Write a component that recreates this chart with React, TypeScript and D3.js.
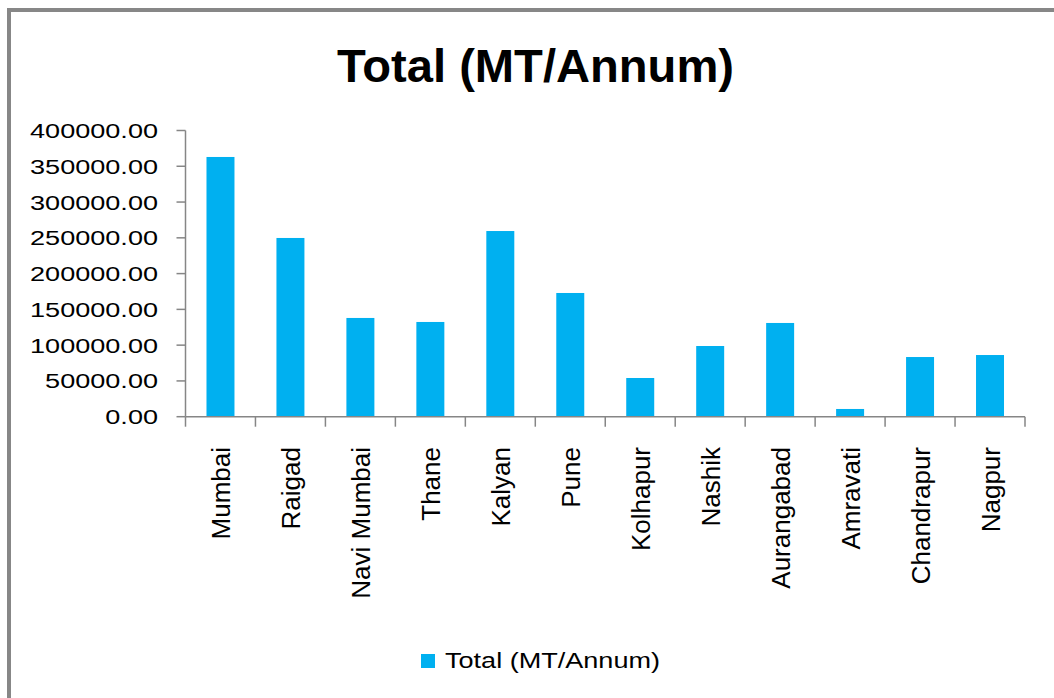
import React from "react";
import * as d3 from "d3";

const categories = ["Mumbai", "Raigad", "Navi Mumbai", "Thane", "Kalyan", "Pune", "Kolhapur", "Nashik", "Aurangabad", "Amravati", "Chandrapur", "Nagpur"];
const totals = [363000, 249800, 138000, 132400, 259500, 172900, 54100, 98800, 131000, 10800, 83400, 86200];
const yTicks = [0, 50000, 100000, 150000, 200000, 250000, 300000, 350000, 400000];
const title = "Total (MT/Annum)";
const seriesName = "Total (MT/Annum)";

const W = 1054;
const H = 698;
const left = 185.5;
const right = 1025;
const top = 130.5;
const bottom = 416.7;
const axisColor = "#868686";
const barColor = "#00B0F0";
const font = "'Liberation Sans', Arial, sans-serif";

export default function App() {
  const x = d3.scaleBand<string>().domain(categories).range([left, right]).paddingInner(0.6).paddingOuter(0.3);
  const y = d3.scaleLinear().domain([0, 400000]).range([bottom, top]);
  const step = (right - left) / categories.length;
  const boundaries = d3.range(categories.length + 1).map((i) => left + i * step);

  return (
    <svg width={W} height={H} style={{ position: "absolute", left: 0, top: 0, background: "#fff" }}>
      <rect x={9} y={10} width={1200} height={900} fill="#fff" stroke="#878787" strokeWidth={4} />
      <text
        x={337}
        y={82}
        textLength={397}
        lengthAdjust="spacingAndGlyphs"
        fontFamily={font}
        fontWeight="bold"
        fontSize={47}
        fill="#000"
      >
        {title}
      </text>
      {/* bars */}
      {totals.map((v, i) => (
        <rect key={categories[i]} x={x(categories[i])} y={y(v)} width={x.bandwidth()} height={y(0) - y(v)} fill={barColor} />
      ))}
      {/* y axis */}
      <line x1={left} x2={left} y1={top} y2={bottom} stroke={axisColor} strokeWidth={1.5} />
      {yTicks.map((t) => (
        <g key={t}>
          <line x1={left - 9} x2={left} y1={y(t)} y2={y(t)} stroke={axisColor} strokeWidth={1.5} />
          <text
            transform={`translate(${158},${y(t) + 7.5}) scale(1.29,1)`}
            textAnchor="end"
            fontFamily={font}
            fontSize={21}
            fill="#000"
          >
            {d3.format(".2f")(t)}
          </text>
        </g>
      ))}
      {/* x axis */}
      <line x1={left} x2={right} y1={bottom} y2={bottom} stroke={axisColor} strokeWidth={1.5} />
      {boundaries.map((b, i) => (
        <line key={i} x1={b} x2={b} y1={bottom} y2={bottom + 10} stroke={axisColor} strokeWidth={1.5} />
      ))}
      {categories.map((c) => (
        <text
          key={c}
          transform={`translate(${(x(c) as number) + x.bandwidth() / 2 + 10},${447}) rotate(-90)`}
          textAnchor="end"
          fontFamily={font}
          fontSize={26}
          fill="#000"
        >
          {c}
        </text>
      ))}
      {/* legend */}
      <rect x={421} y={654} width={14} height={14} fill={barColor} />
      <text transform={`translate(${445},${668}) scale(1.23,1)`} fontFamily={font} fontSize={22} fill="#000">
        {seriesName}
      </text>
    </svg>
  );
}
